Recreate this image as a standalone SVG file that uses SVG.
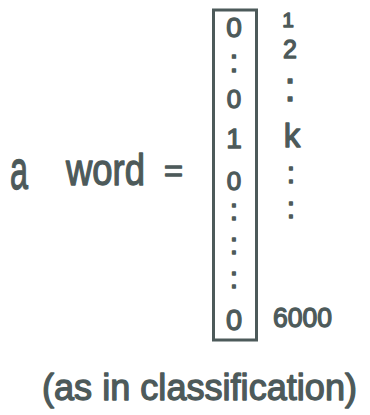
<svg xmlns="http://www.w3.org/2000/svg" width="370" height="415" viewBox="0 0 370 415">
<style>
text{font-family:"Liberation Sans","DejaVu Sans",sans-serif;fill:#4d5a5a;stroke:#4d5a5a;stroke-width:1.3;stroke-linejoin:round}
.c{text-anchor:middle}
.box{fill:none;stroke:#4d5a5a;stroke-width:3}
</style>
<rect width="370" height="415" fill="#ffffff"/>
<g id="label-left">
<text x="10" y="189" font-size="56" textLength="18" lengthAdjust="spacingAndGlyphs">a</text>
<text x="66" y="185" font-size="44" textLength="79" lengthAdjust="spacingAndGlyphs">word</text>
<text x="164" y="181" font-size="30" textLength="19" lengthAdjust="spacingAndGlyphs">=</text>
</g>
<g id="vector">
<rect class="box" x="213.5" y="10" width="43" height="330"/>
<text class="c" x="234" y="37" font-size="28">0</text>
<text class="c" x="234" y="72" font-size="32">:</text>
<text class="c" x="234" y="108" font-size="26">0</text>
<text class="c" x="234" y="148" font-size="28">1</text>
<text class="c" x="234" y="190" font-size="26">0</text>
<text class="c" x="234" y="220" font-size="30">:</text>
<text class="c" x="234" y="254" font-size="30">:</text>
<text class="c" x="234" y="288" font-size="30">:</text>
<text class="c" x="234" y="330" font-size="29">0</text>
</g>
<g id="indices">
<text class="c" x="288" y="27" font-size="21">1</text>
<text class="c" x="290" y="58" font-size="25">2</text>
<text class="c" x="290" y="101" font-size="40">:</text>
<text class="c" x="292" y="147" font-size="33">k</text>
<text class="c" x="291" y="183" font-size="30">:</text>
<text class="c" x="291" y="218" font-size="30">:</text>
<text x="273" y="327" font-size="27" textLength="59" lengthAdjust="spacingAndGlyphs">6000</text>
</g>
<g id="caption">
<text x="42" y="400" font-size="36" textLength="315" lengthAdjust="spacingAndGlyphs">(as in classification)</text>
</g>
</svg>
